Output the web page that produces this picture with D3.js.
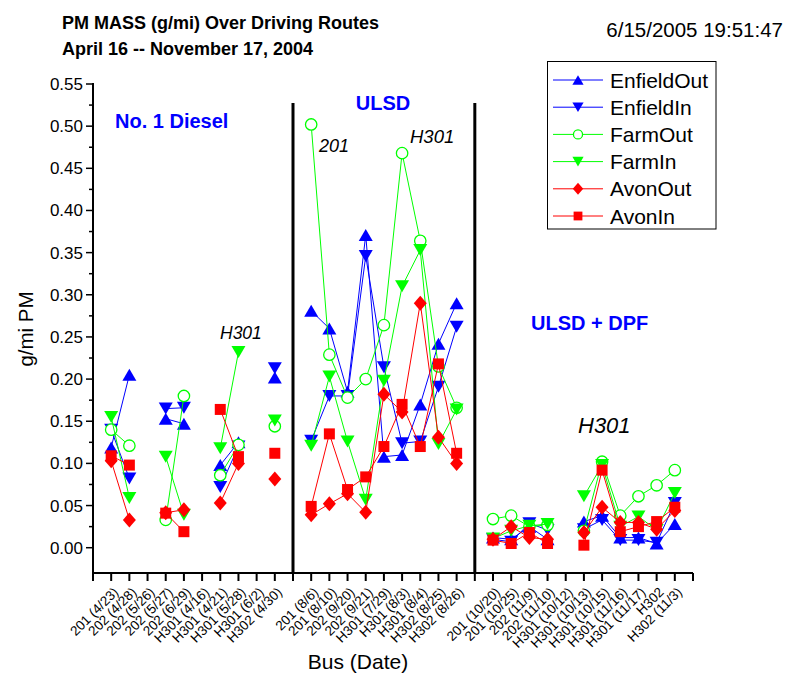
<!DOCTYPE html>
<html><head><meta charset="utf-8">
<script src="https://d3js.org/d3.v7.min.js"></script>
<style>body{margin:0;background:#fff}svg{display:block}text{font-family:"Liberation Sans",Arial,sans-serif}</style>
</head><body>
<script>
// category labels at positions 1..32 ("" = section separator)
const categories = ["201 (4/23)","202 (4/28)","202 (5/26)","202 (5/27)","202 (6/29)","H301 (4/16)","H301 (4/21)","H301 (5/28)","H301 (6/2)","H302 (4/30)",
  "",
  "201 (8/6)","201 (8/10)","202 (9/20)","202 (9/21)","H301 (7/29)","H301 (8/3)","H301 (8/4)","H302 (8/25)","H302 (8/26)",
  "",
  "201 (10/20)","201 (10/25)","202 (11/9)","202 (11/10)","H301 (10/12)","H301 (10/13)","H301 (10/15)","H301 (11/16)","H301 (11/17)","H302","H302 (11/3)"];
const N = null;
const enfieldOut = [0.119,0.205,N,0.153,0.147,N,0.098,0.125,N,0.202, N,
  0.281,0.260,0.185,0.371,0.108,0.110,0.170,0.242,0.290, N,
  0.012,0.010,0.025,0.010,N,0.031,0.038,0.012,0.012,0.005,0.028];
const enfieldIn = [0.140,0.082,N,0.165,0.166,N,0.072,0.120,N,0.213, N,
  0.127,0.180,0.180,0.346,0.214,0.124,0.126,0.191,0.262, N,
  0.010,0.007,0.029,0.021,N,0.022,0.033,0.009,0.009,0.006,0.053];
const farmOut = [0.140,0.121,N,0.033,0.180,N,0.086,0.122,N,0.144, N,
  0.502,0.229,0.178,0.200,0.264,0.468,0.364,0.215,0.166, N,
  0.034,0.038,0.025,0.027,N,0.020,0.102,0.038,0.061,0.074,0.092];
const farmIn = [0.155,0.059,N,0.108,0.039,N,0.118,0.232,N,0.151, N,
  0.121,0.203,0.126,0.057,0.198,0.310,0.353,0.123,0.164, N,
  0.011,0.020,0.026,0.028,N,0.061,0.098,0.025,0.037,0.021,0.065];
const avonOut = [0.103,0.033,N,0.0415,0.045,N,0.053,0.100,N,0.0815, N,
  0.039,0.052,0.064,0.042,0.182,0.161,0.290,0.131,0.100, N,
  0.010,0.025,0.012,0.010,N,0.018,0.048,0.030,0.030,0.022,0.044];
const avonIn = [0.109,0.098,N,0.041,0.019,N,0.164,0.108,N,0.112, N,
  0.049,0.135,0.069,0.084,0.120,0.170,0.120,0.218,0.112, N,
  0.009,0.005,0.018,0.005,N,0.003,0.092,0.019,0.025,0.031,0.048];
const seriesNames = ["EnfieldOut","EnfieldIn","FarmOut","FarmIn","AvonOut","AvonIn"];
const yTicks = [0.00,0.05,0.10,0.15,0.20,0.25,0.30,0.35,0.40,0.45,0.50,0.55];

const series = [
  {name:seriesNames[0], values:enfieldOut, color:"#0000ff", shape:"up"},
  {name:seriesNames[1], values:enfieldIn,  color:"#0000ff", shape:"down"},
  {name:seriesNames[2], values:farmOut,    color:"#00ff00", shape:"circle"},
  {name:seriesNames[3], values:farmIn,     color:"#00ff00", shape:"down"},
  {name:seriesNames[4], values:avonOut,    color:"#ff0000", shape:"diamond"},
  {name:seriesNames[5], values:avonIn,     color:"#ff0000", shape:"square"}
];

const W = 788, H = 673;
const svg = d3.select("body").append("svg").attr("width", W).attr("height", H);
const x = d3.scaleLinear().domain([0, 33]).range([93, 693]);
const y = d3.scaleLinear().domain([-0.03, 0.55]).range([573, 84]);

function shapePath(shape, s) {
  if (shape === "up") { const w = 7*s, h = 6*s; return `M0,${-h}L${w},${h}L${-w},${h}Z`; }
  if (shape === "down") { const w = 7*s, h = 6*s; return `M0,${h}L${w},${-h}L${-w},${-h}Z`; }
  if (shape === "diamond") { const w = 6.5*s, h = 7.5*s; return `M0,${-h}L${w},0L0,${h}L${-w},0Z`; }
  if (shape === "square") { const a = 5.5*s; return `M${-a},${-a}H${a}V${a}H${-a}Z`; }
  return null;
}
function drawMarker(g, shape, color, cx, cy, s) {
  if (shape === "circle") {
    g.append("circle").attr("cx", cx).attr("cy", cy).attr("r", 5.7*s)
      .attr("fill", "#fff").attr("stroke", color).attr("stroke-width", 1.3);
  } else {
    g.append("path").attr("d", shapePath(shape, s)).attr("transform", `translate(${cx},${cy})`)
      .attr("fill", color);
  }
}

// section separators
[11, 21].forEach(i => {
  svg.append("line").attr("x1", x(i)).attr("x2", x(i)).attr("y1", 103).attr("y2", y(-0.03))
    .attr("stroke", "#000").attr("stroke-width", 3);
});

// series
const line = d3.line().defined(d => d.v != null).x(d => x(d.i)).y(d => y(d.v));
series.forEach(s => {
  const pts = s.values.map((v, k) => ({i: k + 1, v}));
  const g = svg.append("g");
  g.append("path").attr("d", line(pts)).attr("fill", "none").attr("stroke", s.color).attr("stroke-width", 1);
  pts.filter(d => d.v != null).forEach(d => drawMarker(g, s.shape, s.color, x(d.i), y(d.v), 1));
});

// axes
const yAxisG = svg.append("g");
yAxisG.append("line").attr("x1", x(0)).attr("x2", x(0)).attr("y1", y(0.55)-1).attr("y2", y(-0.03)+1)
  .attr("stroke", "#000").attr("stroke-width", 2);
d3.range(0, 0.5501, 0.025).forEach((v, k) => {
  const major = k % 2 === 0;
  yAxisG.append("line").attr("x1", x(0)).attr("x2", x(0) - (major ? 7 : 4))
    .attr("y1", y(v)).attr("y2", y(v)).attr("stroke", "#000").attr("stroke-width", 1.5);
});
yTicks.forEach(v => {
  yAxisG.append("text").attr("x", x(0) - 10).attr("y", y(v)).attr("dy", "0.35em")
    .attr("text-anchor", "end").attr("font-size", 17).text(d3.format(".2f")(v));
});

const xAxisG = svg.append("g");
xAxisG.append("line").attr("x1", x(0)-1).attr("x2", x(33)).attr("y1", y(-0.03)).attr("y2", y(-0.03))
  .attr("stroke", "#000").attr("stroke-width", 2);
d3.range(0, 34).forEach(i => {
  xAxisG.append("line").attr("x1", x(i)).attr("x2", x(i)).attr("y1", y(-0.03)).attr("y2", y(-0.03) + 8)
    .attr("stroke", "#000").attr("stroke-width", 2);
});
categories.forEach((c, k) => {
  if (!c) return;
  const px = x(k + 1) + 8, py = y(-0.03) + 20;
  xAxisG.append("text").attr("transform", `translate(${px},${py}) rotate(-45)`)
    .attr("text-anchor", "end").attr("font-size", 13.5).text(c);
});

// axis titles
svg.append("text").attr("x", 358).attr("y", 669).attr("text-anchor", "middle").attr("font-size", 21).text("Bus (Date)");
svg.append("text").attr("transform", "translate(33,329) rotate(-90)").attr("text-anchor", "middle").attr("font-size", 20.5).text("g/mi PM");

// titles
svg.append("text").attr("x", 62).attr("y", 29).attr("font-size", 18).attr("font-weight", "bold").text("PM MASS (g/mi) Over Driving Routes");
svg.append("text").attr("x", 62).attr("y", 55).attr("font-size", 18).attr("font-weight", "bold").text("April 16 -- November 17, 2004");
svg.append("text").attr("x", 783).attr("y", 37).attr("text-anchor", "end").attr("font-size", 20.5).text("6/15/2005 19:51:47");

// section labels
const blueBold = (t, px, py, anchor) => svg.append("text").attr("x", px).attr("y", py).attr("text-anchor", anchor)
  .attr("font-size", 20).attr("font-weight", "bold").attr("fill", "#0000ff").text(t);
blueBold("No. 1 Diesel", 115, 128, "start");
blueBold("ULSD", 383, 110, "middle");
blueBold("ULSD + DPF", 531, 330, "start");
const ital = (t, px, py, fs) => svg.append("text").attr("x", px).attr("y", py).attr("font-size", fs)
  .attr("font-style", "italic").text(t);
ital("H301", 220, 339, 17.5);
ital("201", 319, 152, 18);
ital("H301", 410, 143, 18.5);
ital("H301", 578, 433, 22);

// legend
const lg = svg.append("g");
lg.append("rect").attr("x", 547.5).attr("y", 61.5).attr("width", 168.5).attr("height", 167.5)
  .attr("fill", "#fff").attr("stroke", "#000").attr("stroke-width", 1);
series.forEach((s, k) => {
  const ly = 80 + k * 27.2;
  lg.append("line").attr("x1", 553).attr("x2", 603).attr("y1", ly).attr("y2", ly).attr("stroke", s.color).attr("stroke-width", 1);
  drawMarker(lg, s.shape, s.color, 578, ly, 0.8);
  lg.append("text").attr("x", 610).attr("y", ly).attr("dy", "0.36em").attr("font-size", 21).text(s.name);
});
</script>
</body></html>
